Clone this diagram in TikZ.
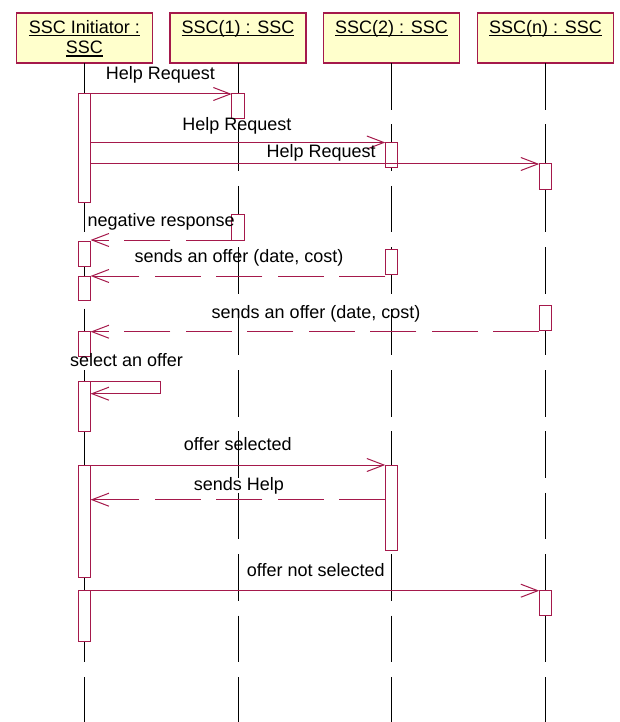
\documentclass[tikz,border=0pt]{standalone}
\usepackage{fontspec}
\setmainfont{Liberation Sans}
\usetikzlibrary{arrows.meta}
\definecolor{umlred}{RGB}{165,25,75}
\definecolor{umlyellow}{RGB}{255,255,204}
\begin{document}
\begin{tikzpicture}[x=1pt,y=-1pt,
  every node/.style={font=\fontsize{18}{20}\selectfont, inner sep=0pt, outer sep=0pt},
  head/.style={draw=umlred, fill=umlyellow, line width=1.2pt, minimum width=136pt, minimum height=50pt, anchor=north},
  lifeline/.style={draw=black, line width=0.9pt, dash pattern=on 46.6pt off 14.8pt},
  bar/.style={draw=umlred, fill=white, line width=1pt, minimum width=12.5pt, anchor=north},
  msg/.style={draw=umlred, line width=1pt, -{Straight Barb[length=17pt,width=13pt]}},
  reply/.style={msg, dash pattern=on 46pt off 15.5pt},
  lbl/.style={anchor=base, text=black},
  hdtext/.style={anchor=base, text=black},
  uline/.style={draw=black, line width=1.2pt}]
\useasboundingbox (0,0) rectangle (619,722);

% heads
\node[head] (h1) at (84.3,13) {};
\node[head] (h2) at (238,13) {};
\node[head] (h3) at (391.5,13) {};
\node[head] (h4) at (545.5,13) {};

% lifelines
\draw[lifeline] (h1.south) -- (h1.south |- 0,722);
\draw[lifeline] (h2.south) -- (h2.south |- 0,722);
\draw[lifeline] (h3.south) -- (h3.south |- 0,722);
\draw[lifeline] (h4.south) -- (h4.south |- 0,722);

% head texts
\node[hdtext] (t1) at (84.3,33.3) {SSC Initiator :};
\node[hdtext] (t1b) at (84.3,54) {SSC};
\node[hdtext] (t2) at (238,33.3) {SSC(1) : SSC};
\node[hdtext] (t3) at (391.5,33.3) {SSC(2) : SSC};
\node[hdtext] (t4) at (545.5,33.3) {SSC(n) : SSC};
\foreach \t in {t1,t1b,t2,t3,t4}
  \draw[uline] ([yshift=-2pt]\t.base west) -- ([yshift=-2pt]\t.base east);

% activation bars
\node[bar, minimum height=108.3pt] (a1) at (84.3,94) {};
\node[bar, minimum height=25pt]    (a2) at (84.3,241) {};
\node[bar, minimum height=24.7pt]  (a3) at (84.3,276) {};
\node[bar, minimum height=24.3pt]  (a4) at (84.3,331.7) {};
\node[bar, minimum height=50.7pt]  (a5) at (84.3,381) {};
\node[bar, minimum height=112pt]   (a6) at (84.3,465) {};
\node[bar, minimum height=51pt]    (a7) at (84.3,590.7) {};
\node[bar, minimum height=25pt]    (b1) at (238,94) {};
\node[bar, minimum height=25.7pt]  (b2) at (238,214.3) {};
\node[bar, minimum height=25.5pt]  (c1) at (391.5,142.5) {};
\node[bar, minimum height=24.7pt]  (c2) at (391.5,249.3) {};
\node[bar, minimum height=85.7pt]  (c3) at (391.5,465) {};
\node[bar, minimum height=25.3pt]  (d1) at (545.5,164) {};
\node[bar, minimum height=25.4pt]  (d2) at (545.5,305.3) {};
\node[bar, minimum height=24.6pt]  (d3) at (545.5,590.7) {};

% messages
\draw[msg] (a1.north east) -- (b1.north west);
\draw[msg] (a1.east |- c1.north) -- (c1.north west);
\draw[msg] (a1.east |- d1.north) -- (d1.north west);
\draw[reply] (b2.south west) -- (a2.east |- b2.south);
\draw[reply] (c2.west |- a3.north) -- (a3.north east);
\draw[reply] (d2.west |- a4.north) -- (a4.north east);
\draw[msg] (a5.north east) -- ++(70.3,0) |- ([yshift=-12.7pt]a5.north east);
\draw[msg] (a6.north east) -- (c3.north west);
\draw[reply] ([yshift=-34.7pt]c3.north west) -- ([yshift=-34.7pt]a6.north east);
\draw[msg] (a7.north east) -- (d3.north west);

% labels
\node[lbl] (m1) at (160.5,80) {Help Request};
\node[lbl] (m2) at (236.9,131) {Help Request};
\node[lbl] (m3) at (321.2,157.7) {Help Request};
\node[lbl] (m4) at (161.2,226.7) {negative response};
\node[lbl] (m5) at (239,262.3) {sends an offer (date, cost)};
\node[lbl] (m6) at (316.1,318.3) {sends an offer (date, cost)};
\node[lbl] (m7) at (126.5,366.7) {select an offer};
\node[lbl] (m8) at (237.7,450.7) {offer selected};
\node[lbl] (m9) at (238.8,490.7) {sends Help};
\node[lbl] (m10) at (315.7,576) {offer not selected};
\end{tikzpicture}
\end{document}
